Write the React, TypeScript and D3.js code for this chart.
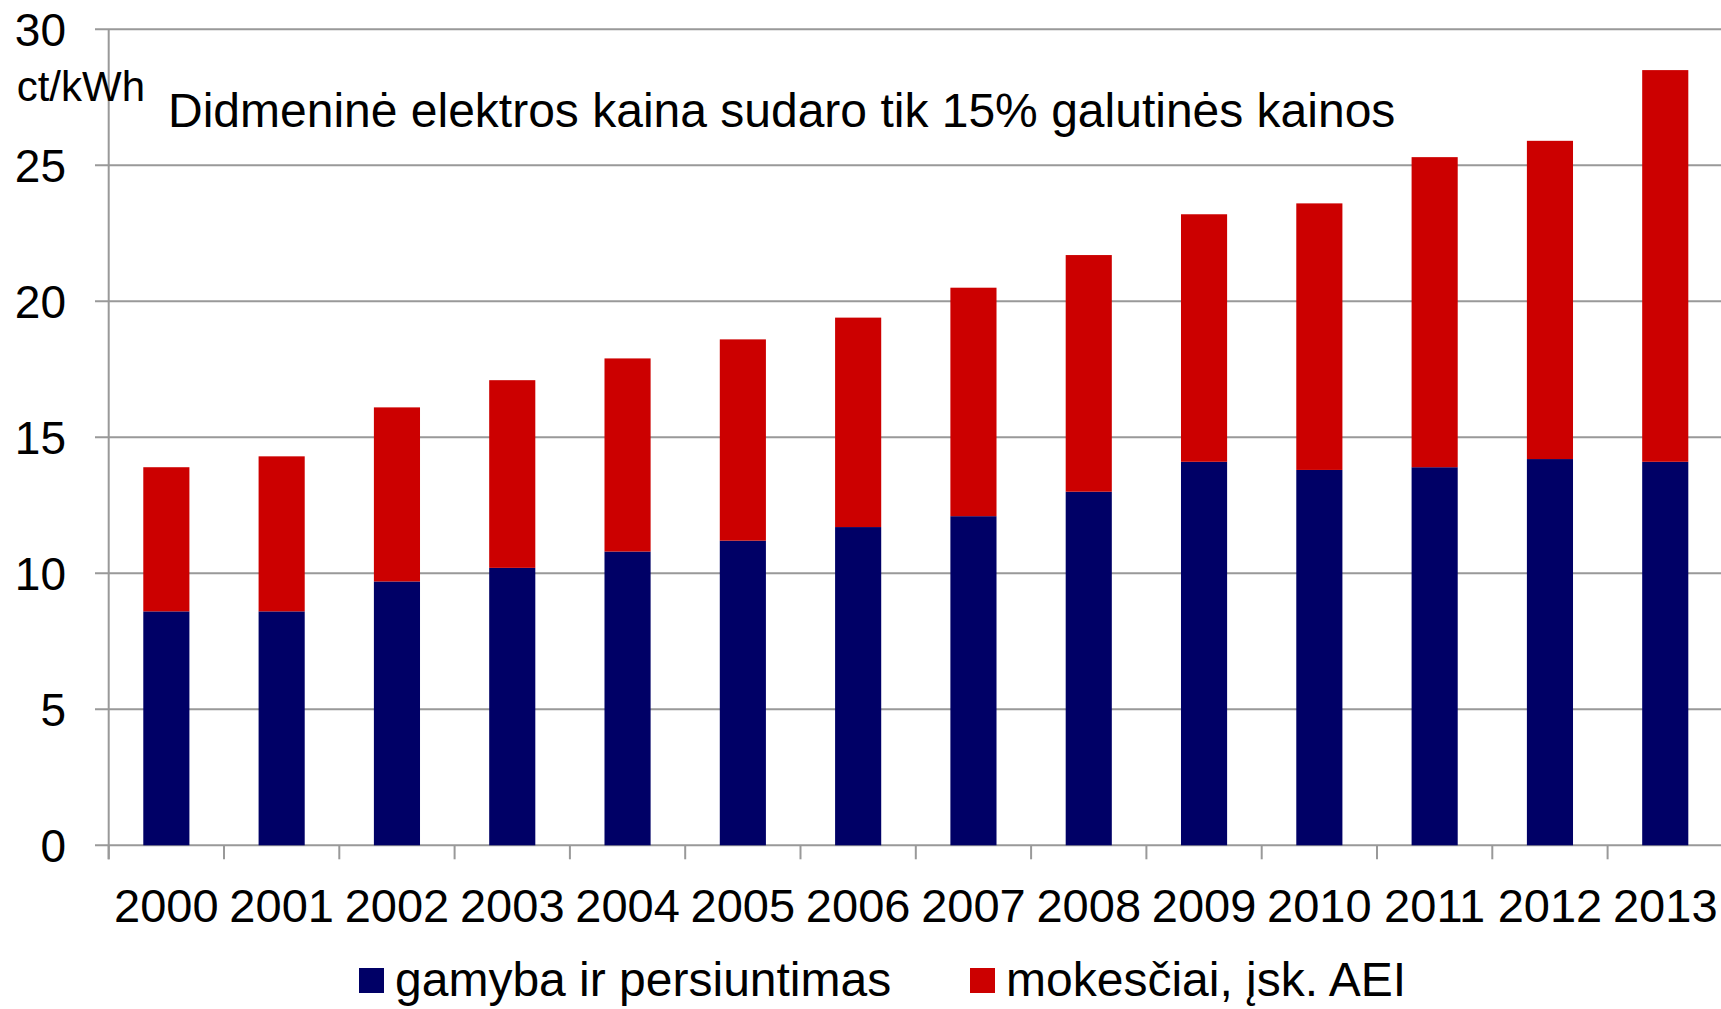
import React, { useEffect, useRef } from 'react';
import * as d3 from 'd3';

const years = ['2000', '2001', '2002', '2003', '2004', '2005', '2006', '2007', '2008', '2009', '2010', '2011', '2012', '2013'];
const gamyba = [8.6, 8.6, 9.7, 10.2, 10.8, 11.2, 11.7, 12.1, 13.0, 14.1, 13.8, 13.9, 14.2, 14.1];
const mokesciai = [5.3, 5.7, 6.4, 6.9, 7.1, 7.4, 7.7, 8.4, 8.7, 9.1, 9.8, 11.4, 11.7, 14.4];
const yTicks = [0, 5, 10, 15, 20, 25, 30];
const seriesNames = ['gamyba ir persiuntimas', 'mokesčiai, įsk. AEI'];
const colors = ['#000066', '#CC0000'];

const FONT = '"Liberation Sans", Arial, sans-serif';

export default function App() {
  const svgRef = useRef<SVGSVGElement>(null);

  useEffect(() => {
    const svg = d3.select(svgRef.current);
    svg.selectAll('*').remove();

    const left = 108.7;
    const step = 115.3;
    const x = d3
      .scaleBand()
      .domain(years)
      .range([left, left + step * years.length])
      .paddingInner(0.6)
      .paddingOuter(0.3);
    const y = d3.scaleLinear().domain([0, 30]).range([845.3, 29.3]);

    const rows = years.map((yr, i) => ({ year: yr, a: gamyba[i], b: mokesciai[i] }));
    const stacked = d3.stack<any>().keys(['a', 'b'])(rows);

    // gridlines + y labels
    const grid = svg.append('g');
    grid
      .selectAll('line')
      .data(yTicks)
      .join('line')
      .attr('x1', 95)
      .attr('x2', 1721)
      .attr('y1', (d) => y(d))
      .attr('y2', (d) => y(d))
      .attr('stroke', '#999')
      .attr('stroke-width', 2);
    grid
      .selectAll('text')
      .data(yTicks)
      .join('text')
      .attr('x', 66)
      .attr('y', (d) => y(d))
      .attr('dy', '0.36em')
      .attr('text-anchor', 'end')
      .style('font-family', FONT)
      .style('font-size', '46px')
      .text((d) => d);

    // y axis line
    svg
      .append('line')
      .attr('x1', left)
      .attr('x2', left)
      .attr('y1', y(30))
      .attr('y2', y(0) + 14)
      .attr('stroke', '#999')
      .attr('stroke-width', 2);

    // x ticks between categories
    svg
      .append('g')
      .selectAll('line')
      .data(d3.range(years.length + 1))
      .join('line')
      .attr('x1', (i) => left + i * x.step())
      .attr('x2', (i) => left + i * x.step())
      .attr('y1', y(0))
      .attr('y2', y(0) + 14)
      .attr('stroke', '#999')
      .attr('stroke-width', 2);

    // bars
    svg
      .append('g')
      .selectAll('g')
      .data(stacked)
      .join('g')
      .attr('fill', (d, i) => colors[i])
      .selectAll('rect')
      .data((d) => d)
      .join('rect')
      .attr('x', (d: any) => x(d.data.year)!)
      .attr('width', x.bandwidth())
      .attr('y', (d) => y(d[1]))
      .attr('height', (d) => y(d[0]) - y(d[1]));

    // x labels
    svg
      .append('g')
      .selectAll('text')
      .data(years)
      .join('text')
      .attr('x', (d) => x(d)! + x.bandwidth() / 2)
      .attr('y', 921.5)
      .attr('text-anchor', 'middle')
      .style('font-family', FONT)
      .style('font-size', '47px')
      .text((d) => d);

    // unit + title
    svg
      .append('text')
      .attr('x', 16.7)
      .attr('y', 100.7)
      .style('font-family', FONT)
      .style('font-size', '42px')
      .text('ct/kWh');
    svg
      .append('text')
      .attr('x', 168)
      .attr('y', 126.7)
      .style('font-family', FONT)
      .style('font-size', '48px')
      .text('Didmeninė elektros kaina sudaro tik 15% galutinės kainos');

    // legend
    const legendX = [359, 970];
    const lg = svg
      .append('g')
      .selectAll('g')
      .data(seriesNames)
      .join('g')
      .attr('transform', (d, i) => `translate(${legendX[i]}, 968)`);
    lg.append('rect').attr('width', 25).attr('height', 25).attr('fill', (d, i) => colors[i]);
    lg.append('text')
      .attr('x', 36)
      .attr('y', 28)
      .style('font-family', FONT)
      .style('font-size', '48px')
      .text((d) => d);
  }, []);

  return (
    <svg
      ref={svgRef}
      width={1721}
      height={1009}
      style={{ position: 'absolute', left: 0, top: 0, background: '#fff' }}
    />
  );
}
